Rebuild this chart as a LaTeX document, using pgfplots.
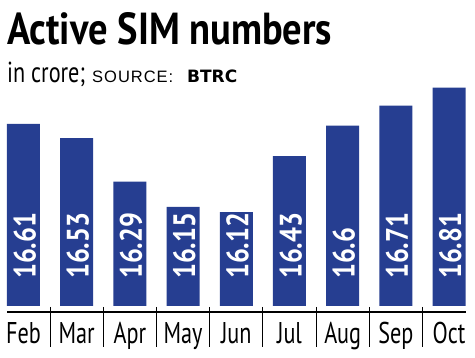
\documentclass[border=0pt]{standalone}
\usepackage{pgfplots}
\pgfplotsset{compat=1.18}
\usepackage{pgfplotstable}
\usepackage{graphicx}
\usepackage{fontspec}
\setmainfont{PT Sans}
\newfontfamily\condA[FakeStretch=0.74]{PT Sans}
\newfontfamily\condB[FakeStretch=0.85]{PT Sans}
\newfontfamily\srcfont[LetterSpace=6]{Liberation Sans}
\newfontfamily\btrcfont{DejaVu Sans}
\definecolor{barblue}{RGB}{38,62,145}
\pgfplotstableread{
x v lx base lab
0 16.61 0.2256 15.75 16.61
1 16.53 1.2256 15.75 16.53
2 16.29 2.2256 15.75 16.29
3 16.15 3.2256 15.75 16.15
4 16.12 4.2256 15.75 16.12
5 16.43 5.2256 15.75 16.43
6 16.60 6.2256 15.75 16.6
7 16.71 7.2256 15.75 16.71
8 16.81 8.2256 15.75 16.81
}\simdata
\begin{document}
\begin{tikzpicture}
\path[use as bounding box] (0pt,-358pt) rectangle (475pt,0pt);
\begin{axis}[
  at={(0pt,-306pt)}, anchor=south west,
  scale only axis, width=475pt, height=306pt,
  xmin=-0.4417, xmax=8.487,
  ymin=15.6, ymax=17.296,
  axis line style={draw=none},
  ytick=\empty,
  xtick={0,...,8},
  xticklabels={Feb,Mar,Apr,May,Jun,Jul,Aug,Sep,Oct},
  major tick length=0pt,
  xticklabel style={anchor=base, yshift=-38pt, inner sep=0pt, font=\condA\fontsize{30}{30}\selectfont},
  clip=false,
]
\addplot[ybar, bar width=33pt, fill=barblue, draw=none] table[x=x, y=v] {\simdata};
\addplot[only marks, mark=none, nodes near coords, point meta=explicit symbolic,
  nodes near coords style={rotate=90, anchor=base west, inner sep=0pt, outer sep=0pt, text=white, font=\condB\bfseries\fontsize{31}{31}\selectfont}]
  table[x=lx, y=base, meta=lab] {\simdata};
\end{axis}
\draw[line width=1.4pt] (7pt,-312pt) -- (466pt,-312pt);
\foreach \sx in {50.1,103.3,156.5,209.7,262.9,316.1,369.3,422.5}
  \draw[line width=0.9pt] (\sx pt,-307pt) -- (\sx pt,-347pt);
\node[anchor=base west, inner sep=0pt] at (7pt,-45pt) {\resizebox{325pt}{32pt}{\bfseries Active SIM numbers}};
\node[anchor=base west, inner sep=0pt] at (7pt,-83pt) {\resizebox{78pt}{20.5pt}{in crore;}};
\node[anchor=base west, inner sep=0pt] at (92pt,-83pt) {\srcfont\fontsize{16.5}{16.5}\selectfont SOURCE:};
\node[anchor=base west, inner sep=0pt] at (187pt,-83pt) {\btrcfont\bfseries\fontsize{17}{17}\selectfont BTRC};
\end{tikzpicture}
\end{document}
